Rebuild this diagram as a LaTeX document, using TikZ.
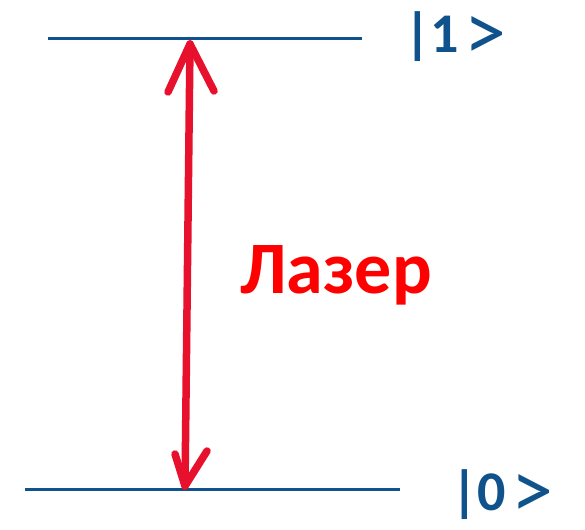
\documentclass[tikz,border=0pt]{standalone}
\usepackage{fontspec}
\setmainfont{Carlito}
\definecolor{levelblue}{RGB}{16,82,140}
\definecolor{laserred}{RGB}{232,17,45}
\definecolor{textred}{RGB}{255,0,0}
\newcommand{\ketgt}{\kern5pt\raisebox{-8pt}{\mdseries\fontsize{84}{88}\selectfont >}}
\begin{document}
\begin{tikzpicture}[x=1pt,y=-1pt,
  level/.style={draw=levelblue,line width=3pt},
  beam/.style={draw=laserred,line width=7.5pt,line cap=round,line join=round},
  ket/.style={text=levelblue,font=\bfseries\fontsize{56}{60}\selectfont,inner sep=0pt,anchor=base west},
  lbl/.style={text=textred,font=\bfseries\fontsize{74}{80}\selectfont,inner sep=0pt,anchor=base}]
\useasboundingbox (0,0) rectangle (585,529);
% levels
\coordinate (u1) at (48,39);
\coordinate (u2) at (362,39);
\coordinate (l1) at (25,489);
\coordinate (l2) at (400,489);
\draw[level] (u1) -- (u2);
\draw[level] (l1) -- (l2);
% laser arrow
\coordinate (atop) at (190,44);
\coordinate (abot) at (185,486);
\coordinate (ta1) at (168,92);
\coordinate (ta2) at (214,91);
\coordinate (ba1) at (175,454);
\coordinate (ba2) at (207,451);
\draw[beam] (atop) -- (abot);
\draw[beam] (ta1) -- (atop) -- (ta2);
\draw[beam] (ba1) -- (abot) -- (ba2);
% labels
\node[ket] (k1) at (404,53) {|1\ketgt};
\node[ket] (k0) at (451,510) {|0\ketgt};
\node[lbl] (laser) at (336,293) {Лазер};
\end{tikzpicture}
\end{document}
